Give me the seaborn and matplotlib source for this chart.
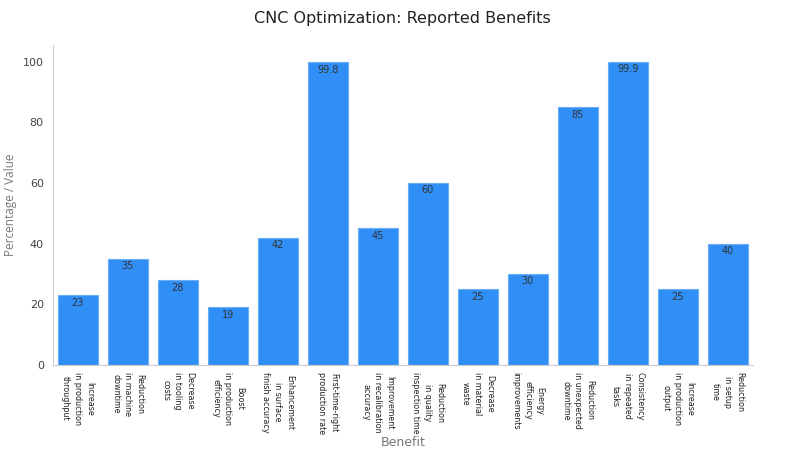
import matplotlib
matplotlib.use("Agg")
import matplotlib.pyplot as plt
import seaborn as sns
import pandas as pd

benefits = [
    "Increase\nin production\nthroughput",
    "Reduction\nin machine\ndowntime",
    "Decrease\nin tooling\ncosts",
    "Boost\nin production\nefficiency",
    "Enhancement\nin surface\nfinish accuracy",
    "First-time-right\nproduction rate",
    "Improvement\nin recalibration\naccuracy",
    "Reduction\nin quality\ninspection time",
    "Decrease\nin material\nwaste",
    "Energy\nefficiency\nimprovements",
    "Reduction\nin unexpected\ndowntime",
    "Consistency\nin repeated\ntasks",
    "Increase\nin production\noutput",
    "Reduction\nin setup\ntime",
]
values = [23, 35, 28, 19, 42, 99.8, 45, 60, 25, 30, 85, 99.9, 25, 40]
value_labels = ["23", "35", "28", "19", "42", "99.8", "45", "60", "25", "30", "85", "99.9", "25", "40"]

df = pd.DataFrame({"Benefit": benefits, "Value": values})

sns.set_style("white")
plt.rcParams["font.family"] = ["DejaVu Sans"]

fig = plt.figure(figsize=(8, 4.5), dpi=100)
ax = fig.add_axes([0.066, 0.189, 0.875, 0.711])

sns.barplot(data=df, x="Benefit", y="Value", color="#2f8ff7", saturation=1,
            edgecolor="#6aaef5", linewidth=0.8, width=0.8, ax=ax)

ax.bar_label(ax.containers[0], labels=value_labels, padding=-9,
             fontsize=7, color="#333333")

ax.set_ylim(0, 105.5)
ax.set_xlim(-0.5, 13.5)
ax.set_yticks([0, 20, 40, 60, 80, 100])
ax.tick_params(axis="y", labelsize=8, colors="#444444", length=3, color="#999999")
ax.tick_params(axis="x", length=3, color="#999999", pad=2)
ax.set_xticks(range(len(benefits)))
ax.set_xticklabels(benefits, rotation=-90, ha="center", va="top",
                   fontsize=6.4, fontstretch="condensed",
                   color="#222222", linespacing=1.45)

ax.set_xlabel("Benefit", fontsize=9, color="#777777")
ax.xaxis.set_label_coords(0.5, -0.222)
ax.set_ylabel("Percentage / Value", fontsize=8.5, color="#777777",
              family=["Open Sans", "DejaVu Sans"])
ax.set_title("CNC Optimization: Reported Benefits", fontsize=11.5,
             color="#222222", pad=16)

sns.despine(ax=ax)
for side in ["left", "bottom"]:
    ax.spines[side].set_color("#cccccc")
    ax.spines[side].set_linewidth(0.8)

fig.savefig("out.png", dpi=100)
